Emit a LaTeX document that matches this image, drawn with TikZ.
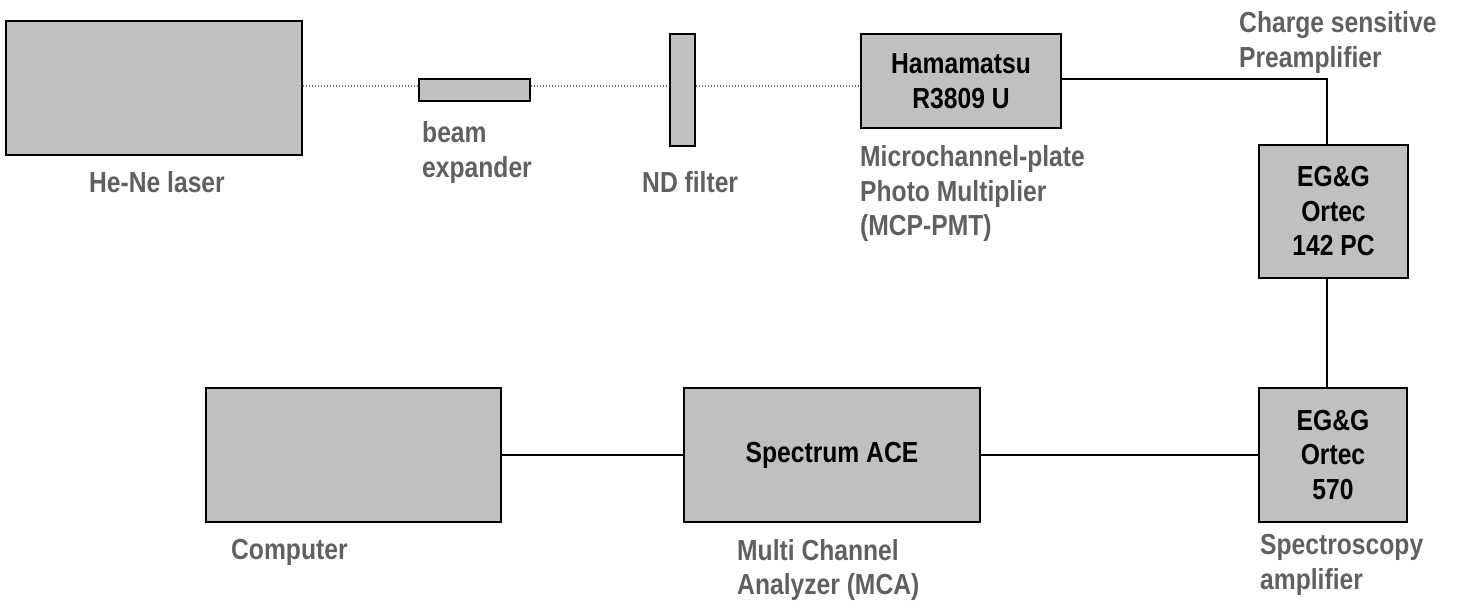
\documentclass[tikz,border=0pt]{standalone}
\usepackage{fontspec}
\usepackage{xcolor}
\usepackage{tikz}
\newfontfamily\narrowfont{Liberation Sans}[FakeStretch=0.85]
\newcommand{\diagfont}{\narrowfont\bfseries\fontsize{29}{34.5}\selectfont}
\definecolor{boxgray}{RGB}{192,192,192}
\definecolor{lblgray}{RGB}{96,96,96}
\definecolor{dotgray}{RGB}{110,110,110}
\tikzset{
  box/.style={rectangle, draw, fill=boxgray, line width=2pt, inner sep=0pt,
              align=center, font=\diagfont, text=black},
  lbl/.style={inner sep=0pt, align=left, font=\diagfont, text=lblgray},
  wire/.style={line width=1.8pt},
  beam/.style={draw=dotgray, line width=1.2pt, dash pattern=on 1.2pt off 1.8pt}
}

\begin{document}
\begin{tikzpicture}[x=1pt, y=-1pt]
  \useasboundingbox (0,0) rectangle (1460,604);
  % optical bench
  \node[box, minimum width=296pt, minimum height=134pt] (laser) at (154,88) {};
  \node[box, minimum width=111pt, minimum height=22pt] (bexp) at (474.5,90) {};
  \node[box, minimum width=25pt, minimum height=112pt] (ndf) at (682.5,90) {};
  \node[box, minimum width=200pt, minimum height=94pt] (pmt) at (961,81) {Hamamatsu\\R3809 U};
  % electronics
  \node[box, minimum width=149pt, minimum height=133pt] (pre) at (1333.5,211.5) {EG\&G\\Ortec\\142 PC};
  \node[box, minimum width=148pt, minimum height=134pt] (amp) at (1333,455) {EG\&G\\Ortec\\570};
  \node[box, minimum width=296pt, minimum height=134pt] (mca) at (832,455) {Spectrum ACE};
  \node[box, minimum width=295pt, minimum height=134pt] (comp) at (353.5,455) {};

  % labels (base = last line)
  \node[lbl, anchor=base] (laserlbl) at (157,193) {He-Ne laser};
  \node[lbl, anchor=base west] (bexplbl) at (422,177.5) {beam\\expander};
  \node[lbl, anchor=base west] (ndflbl) at (642,193) {ND filter};
  \node[lbl, anchor=base west] (pmtlbl) at (860,236) {Microchannel-plate\\Photo Multiplier\\(MCP-PMT)};
  \node[lbl, anchor=base west] (prelbl) at (1239,67.5) {Charge sensitive\\Preamplifier};
  \node[lbl, anchor=base west] (amplbl) at (1260,589) {Spectroscopy\\amplifier};
  \node[lbl, anchor=base west] (mcalbl) at (737,594.5) {Multi Channel\\Analyzer (MCA)};
  \node[lbl, anchor=base west] (complbl) at (231,559) {Computer};

  % beam path
  \coordinate (beamy) at (0,86);
  \draw[beam] (laser.east |- beamy) -- (bexp.west |- beamy);
  \draw[beam] (bexp.east |- beamy) -- (ndf.west |- beamy);
  \draw[beam] (ndf.east |- beamy) -- (pmt.west |- beamy);

  % signal chain
  \coordinate (bend) at (1327,79);
  \draw[wire] (pmt.east |- bend) -- (bend) -- (bend |- pre.north);
  \draw[wire] (bend |- pre.south) -- (bend |- amp.north);
  \draw[wire] (amp.west) -- (mca.east);
  \draw[wire] (mca.west) -- (comp.east);
\end{tikzpicture}
\end{document}
